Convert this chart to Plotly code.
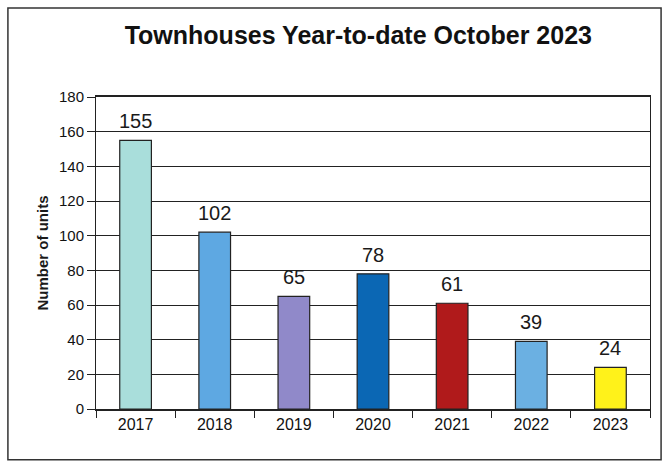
import plotly.graph_objects as go

years = ['2017', '2018', '2019', '2020', '2021', '2022', '2023']
units = [155, 102, 65, 78, 61, 39, 24]
bar_colors = ['#a9dedb', '#5ea8e2', '#9089c9', '#0b67b4', '#b01a1b', '#6bb0e2', '#fff21a']
y_ticks = [0, 20, 40, 60, 80, 100, 120, 140, 160, 180]

fig = go.Figure()
fig.add_trace(go.Bar(
    x=years,
    y=units,
    marker=dict(color=bar_colors, line=dict(color='#222222', width=1.2)),
))

# value labels sit a bit higher above the bars than plotly's outside text
# (category axis: annotation x is the category index)
for i, v in enumerate(units):
    fig.add_annotation(
        x=i, y=v, text=str(v), showarrow=False,
        yanchor='bottom', yshift=6,
        font=dict(family='Arial', size=20, color='#1a1a1a'),
    )

fig.update_layout(
    width=666,
    height=466,
    paper_bgcolor='white',
    plot_bgcolor='white',
    showlegend=False,
    bargap=0.6,
    margin=dict(l=96, r=16, t=97, b=57),
    title=dict(
        text='<b>Townhouses Year-to-date October 2023</b>',
        x=0.538, xanchor='center', y=0.925, yanchor='middle',
        font=dict(family='Arial', size=25, color='#111111'),
    ),
    font=dict(family='Arial', color='#1a1a1a'),
)

fig.update_yaxes(
    range=[0, 180],
    tickvals=y_ticks,
    showgrid=True,
    gridcolor='#222222',
    gridwidth=1,
    zeroline=False,
    showline=True,
    linecolor='#222222',
    linewidth=1,
    ticks='outside',
    ticklen=8,
    tickcolor='#222222',
    tickfont=dict(family='Arial', size=15, color='#111111'),
    title=dict(text='<b>Number of units</b>', font=dict(family='Arial', size=15), standoff=6),
    mirror=True,
)
fig.update_xaxes(
    type='category',
    showline=True,
    linecolor='#222222',
    linewidth=1.5,
    ticks='outside',
    tickson='boundaries',
    ticklen=7,
    tickcolor='#222222',
    tickfont=dict(family='Arial', size=16, color='#111111'),
    tickangle=0,
    mirror=True,
)

fig.add_shape(
    type='rect', xref='paper', yref='paper',
    x0=-0.159, x1=1.02, y0=-0.163, y1=1.285,
    line=dict(color='#333333', width=1.5),
)

fig.write_html('out.html', config={'displayModeBar': False},
               post_script="document.body.style.margin='0';")
